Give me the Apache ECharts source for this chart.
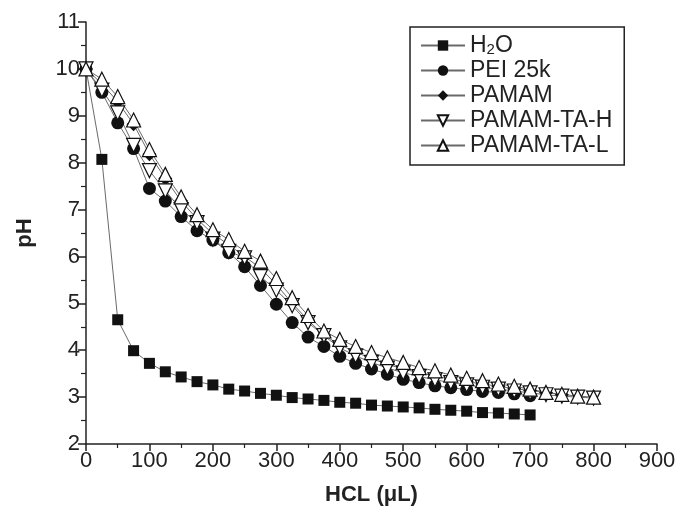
<!DOCTYPE html>
<html>
<head>
<meta charset="utf-8">
<script src="https://cdn.jsdelivr.net/npm/echarts@6/dist/echarts.min.js"></script>
<style>
html,body{margin:0;padding:0;background:#fff;}
#c{width:680px;height:516px;}
</style>
</head>
<body>
<div id="c"></div>
<script>
// HCl volume (µL)
var hcl = [0,25,50,75,100,125,150,175,200,225,250,275,300,325,350,375,400,425,450,475,500,525,550,575,600,625,650,675,700,725,750,775,800];
var h2o = [10,8.07,4.65,3.99,3.72,3.54,3.43,3.33,3.26,3.17,3.13,3.08,3.04,2.99,2.96,2.93,2.89,2.87,2.83,2.81,2.79,2.77,2.74,2.72,2.70,2.67,2.66,2.64,2.62];
var pei = [10,9.5,8.85,8.3,7.45,7.18,6.85,6.55,6.35,6.08,5.78,5.38,4.98,4.59,4.28,4.08,3.87,3.72,3.6,3.49,3.38,3.31,3.24,3.2,3.16,3.12,3.1,3.07,3.03];
var pamam = [10,9.68,9.3,8.82,8.18,7.66,7.18,6.8,6.48,6.25,6.0,5.75,5.4,5.0,4.64,4.32,4.12,3.96,3.82,3.7,3.6,3.52,3.45,3.38,3.33,3.28,3.23,3.18,3.14,3.1,3.05];
var taH = [10,9.55,9.06,8.37,7.83,7.4,7.0,6.72,6.37,6.11,5.97,5.57,5.28,4.95,4.59,4.31,4.05,3.88,3.74,3.62,3.52,3.44,3.37,3.31,3.26,3.21,3.17,3.13,3.09,3.05,3.02,3.0,2.98];
var taL = [10,9.78,9.41,8.91,8.28,7.75,7.27,6.89,6.57,6.36,6.11,5.9,5.53,5.12,4.74,4.41,4.23,4.08,3.95,3.84,3.74,3.63,3.56,3.47,3.4,3.35,3.28,3.23,3.17,3.1,3.06,3.02,3.0];
var names = ['H2O','PEI 25k','PAMAM','PAMAM-TA-H','PAMAM-TA-L'];
var xTicks = [0,100,200,300,400,500,600,700,800,900];
var yTicks = [2,3,4,5,6,7,8,9,10,11];

function pairs(arr){ return arr.map(function(v,i){ return [hcl[i], v]; }); }

var FONT = '"Liberation Sans", Arial, sans-serif';
var lineStyle = {color:'#6a6a6a', width:1};

function mk(name, data, symbol, size, hollow){
  return {
    name: name, type:'line', data: pairs(data),
    symbol: symbol, symbolSize: size,
    showAllSymbol: true,
    lineStyle: lineStyle,
    itemStyle: hollow ? {color:'#ffffff', borderColor:'#111', borderWidth:1.2}
                      : {color:'#111', borderColor:'#111', borderWidth:0},
    emphasis:{disabled:true},
    animation:false
  };
}

var chart = echarts.init(document.getElementById('c'), null, {renderer:'canvas'});
chart.setOption({
  backgroundColor:'#fff',
  animation:false,
  grid:{left:86, right:23, top:22, bottom:72},
  legend:{
    left:410, top:27,
    orient:'vertical',
    data: names,
    itemWidth:44, itemHeight:13, itemGap:0,
    padding:[6,12,7,10],
    borderColor:'#222', borderWidth:1.5,
    backgroundColor:'#fff',
    formatter:function(n){ return n==='H2O' ? 'H{s|2}O' : n; },
    textStyle:{fontFamily:FONT, fontSize:23, color:'#222', lineHeight:25,
      rich:{s:{fontFamily:FONT, fontSize:15, color:'#222', padding:[8,0,0,0], lineHeight:25}}}
  },
  xAxis:{
    type:'value', min:0, max:900, interval:100,
    name:'HCL (μL)', nameLocation:'middle', nameGap:40,
    nameTextStyle:{fontFamily:FONT, fontSize:22, fontWeight:'bold', color:'#222'},
    axisLine:{show:true, onZero:false, lineStyle:{color:'#222', width:1.5}},
    axisTick:{show:true, length:7, lineStyle:{color:'#222', width:1.5}},
    minorTick:{show:true, splitNumber:2, length:4, lineStyle:{color:'#222', width:1.2}},
    splitLine:{show:false},
    axisLabel:{fontFamily:FONT, fontSize:22, color:'#222', margin:6,
      formatter:function(v){ return xTicks.indexOf(v)>=0 ? String(v) : ''; }}
  },
  yAxis:{
    type:'value', min:2, max:11, interval:1,
    name:'pH', nameLocation:'middle', nameGap:50,
    nameTextStyle:{fontFamily:FONT, fontSize:22, fontWeight:'bold', color:'#222'},
    axisLine:{show:true, onZero:false, lineStyle:{color:'#222', width:1.5}},
    axisTick:{show:true, length:8, lineStyle:{color:'#222', width:1.5}},
    minorTick:{show:true, splitNumber:2, length:5, lineStyle:{color:'#222', width:1.2}},
    splitLine:{show:false},
    axisLabel:{fontFamily:FONT, fontSize:22, color:'#222', margin:6,
      formatter:function(v){ return yTicks.indexOf(v)>=0 ? String(v) : ''; }}
  },
  series:[
    mk(names[0], h2o, 'rect', 11, false),
    mk(names[1], pei, 'circle', 13, false),
    mk(names[2], pamam, 'diamond', 14, false),
    mk(names[3], taH, 'path://M0,0 L10,0 L5,9 Z', 14, true),
    mk(names[4], taL, 'triangle', 14, true)
  ]
});
</script>
</body>
</html>
